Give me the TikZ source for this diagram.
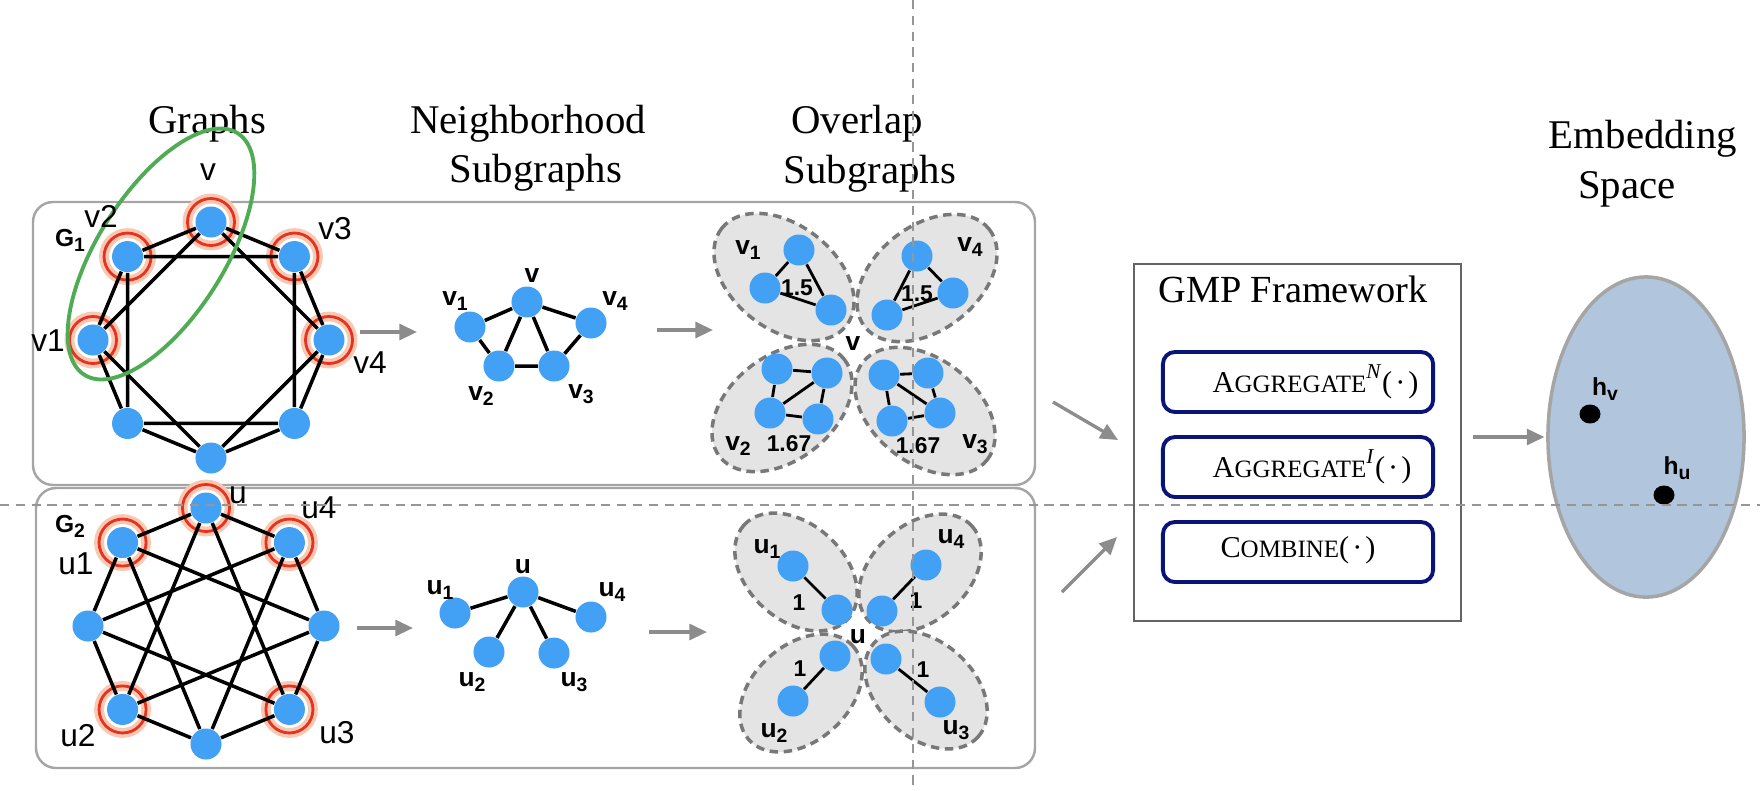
\documentclass[tikz,border=0pt]{standalone}
\usepackage{fontspec}
\setmainfont{Liberation Serif}
\newfontfamily\labfont{Liberation Sans}
\usetikzlibrary{arrows.meta,shapes.geometric}

\definecolor{nodeblue}{RGB}{66,160,245}
\definecolor{ringred}{RGB}{230,50,30}
\definecolor{ringglow}{RGB}{249,200,178}
\definecolor{hullgreen}{RGB}{80,172,84}
\definecolor{panelgray}{RGB}{165,165,165}
\definecolor{petalfill}{RGB}{228,228,228}
\definecolor{petaledge}{RGB}{120,120,120}
\definecolor{arrgray}{RGB}{140,140,140}
\definecolor{dashgray}{RGB}{150,150,150}
\definecolor{gmpgray}{RGB}{100,100,100}
\definecolor{navybox}{RGB}{10,20,120}
\definecolor{embfill}{RGB}{177,197,220}

% label with a small lowered index
\newcommand{\sv}[2]{#1\raisebox{-0.4ex}{\fontsize{5.5}{6}\selectfont#2}}
% small caps by hand
\newcommand{\fsc}[2]{#1{\fontsize{7.1}{8}\selectfont#2}}

\begin{document}
\begin{tikzpicture}[x=0.01cm,y=-0.01cm,
  vert/.style={circle,fill=nodeblue,inner sep=0pt,minimum size=0.31cm},
  edge/.style={line width=1pt},
  sedge/.style={line width=0.8pt},
  glow/.style={draw=ringglow,line width=2.8pt},
  ring/.style={draw=ringred,line width=0.8pt},
  panel/.style={draw=panelgray,line width=0.7pt,rounded corners=0.2cm},
  petal/.style={fill=petalfill,draw=petaledge,line width=1pt,dash pattern=on 2.4pt off 1.6pt},
  title/.style={font=\fontsize{11.6}{13}\selectfont,inner sep=0pt,anchor=base},
  lab/.style={font=\labfont\fontsize{9}{10}\selectfont,inner sep=0pt,anchor=base},
  blab/.style={font=\labfont\bfseries\fontsize{7.5}{9}\selectfont,inner sep=0pt,anchor=base},
  num/.style={font=\labfont\bfseries\fontsize{6.5}{8}\selectfont,inner sep=0pt,anchor=base},
  arr/.style={draw=arrgray,line width=0.95pt,-{Triangle[length=5pt,width=4.5pt]}},
  aggbox/.style={draw=navybox,line width=1.1pt,rounded corners=0.12cm,minimum width=2.7cm,minimum height=0.6cm,inner sep=0pt},
  aggtext/.style={font=\fontsize{8.6}{10}\selectfont,inner sep=0pt},
  guide/.style={draw=dashgray,line width=0.6pt,dash pattern=on 2.6pt off 1.9pt}]
\useasboundingbox (0,0) rectangle (1760,790);

% panels
\draw[panel] (33,202) rectangle (1035,485);
\draw[panel] (36,488) rectangle (1035,768);

% column titles
\node[title] (tgr) at (207,133) {Graphs};
\node[title] (tnb1) at (528,133) {Neighborhood};
\node[title] (tnb2) at (536,182) {Subgraphs};
\node[title] (tov1) at (857,133) {Overlap};
\node[title] (tov2) at (870,183) {Subgraphs};
\node[title] (tem1) at (1643,148) {Embedding};
\node[title] (tem2) at (1627,198) {Space};

% graph G1
\foreach \k in {0,...,7}
\coordinate (c1-\k) at ({211+118*cos(\k*45)},{340+118*sin(\k*45)});
\foreach \k in {0,4,5,6,7} {
\draw[glow] (c1-\k) circle[radius=0.235cm];
\draw[ring] (c1-\k) circle[radius=0.235cm];
}
\foreach \k in {0,...,7}
\node[vert] (g1-\k) at (c1-\k) {};
\foreach \k in {0,...,7} {
\pgfmathtruncatemacro{\na}{mod(\k+1,8)}
\pgfmathtruncatemacro{\nb}{mod(\k+2,8)}
\draw[edge] (g1-\k) -- (g1-\na) (g1-\k) -- (g1-\nb);
}
\draw[hullgreen,line width=1.1pt,rotate around={57.6:(161,254)}] (161,254) ellipse[x radius=1.43cm,y radius=0.63cm];

\foreach \n/\x/\y/\t in {lv/208/180/v, lv2/101/227/v2, lv3/335/239/v3, lv1/48/351/v1, lv4/370/373/v4}
\node[lab] (\n) at (\x,\y) {\t};
\node[blab,font=\labfont\bfseries\fontsize{7}{8}\selectfont] (lg1) at (70,246) {\sv{G}{1}};

% graph G2
\foreach \k in {0,...,7}
\coordinate (c2-\k) at ({206+118*cos(\k*45)},{626+118*sin(\k*45)});
\foreach \k in {1,3,5,6,7} {
\draw[glow] (c2-\k) circle[radius=0.235cm];
\draw[ring] (c2-\k) circle[radius=0.235cm];
}
\foreach \k in {0,...,7}
\node[vert] (g2-\k) at (c2-\k) {};
\foreach \k in {0,...,7} {
\pgfmathtruncatemacro{\na}{mod(\k+1,8)}
\pgfmathtruncatemacro{\nb}{mod(\k+3,8)}
\draw[edge] (g2-\k) -- (g2-\na) (g2-\k) -- (g2-\nb);
}

\foreach \n/\x/\y/\t in {lu/238/503/u, lu4/319/518/u4, lu1/76/574/u1, lu2/78/746/u2, lu3/337/743/u3}
\node[lab] (\n) at (\x,\y) {\t};
\node[blab,font=\labfont\bfseries\fontsize{7}{8}\selectfont] (lg2) at (70,532) {\sv{G}{2}};

% neighborhood subgraphs
\foreach \n/\x/\y in {v/527/302, v1/470/327, v4/591/323, v2/499/366, v3/554/366}
\node[vert] (n1-\n) at (\x,\y) {};
\draw[edge] (n1-v) -- (n1-v1) (n1-v) -- (n1-v4) (n1-v) -- (n1-v2) (n1-v) -- (n1-v3)
(n1-v1) -- (n1-v2) (n1-v2) -- (n1-v3) (n1-v3) -- (n1-v4);
\node[blab] (nl-v) at (532,282) {v};
\foreach \n/\x/\y/\i in {v1/455/305/1, v4/615/305/4, v2/481/400/2, v3/581/398/3}
\node[blab] (nl-\n) at (\x,\y) {\sv{v}{\i}};

\foreach \n/\x/\y in {u/523/592, u1/455/613, u4/591/617, u2/489/652, u3/554/653}
\node[vert] (n2-\n) at (\x,\y) {};
\draw[edge] (n2-u) -- (n2-u1) (n2-u) -- (n2-u2) (n2-u) -- (n2-u3) (n2-u) -- (n2-u4);
\node[blab] (nl-u) at (523,573) {u};
\foreach \n/\x/\y/\i in {u1/440/594/1, u4/612/596/4, u2/472/686/2, u3/574/686/3}
\node[blab] (nl-\n) at (\x,\y) {\sv{u}{\i}};

% overlap subgraphs of v
\foreach \x/\y/\r in {784/277/142, 927/278/38, 782/408/38, 925/411/-38}
\draw[petal,rotate around={\r:(\x,\y)}] (\x,\y) ellipse[x radius=0.79cm,y radius=0.52cm];
\foreach \n/\x/\y in {a1/799/250, a2/765/288, a3/831/310, b1/917/256, b2/953/293, b3/887/315,
c1/777/369, c2/827/373, c3/770/413, c4/818/419, d1/884/375, d2/928/373, d3/892/421, d4/940/413}
\node[vert] (p\n) at (\x,\y) {};
\draw[sedge] (pa1) -- (pa2) -- (pa3) -- (pa1) (pb1) -- (pb2) -- (pb3) -- (pb1)
(pc1) -- (pc2) -- (pc4) -- (pc3) -- (pc1) (pc2) -- (pc3)
(pd1) -- (pd2) -- (pd4) -- (pd3) -- (pd1) (pd1) -- (pd4);
\foreach \n/\x/\y/\i in {pv1/748/254/1, pv4/970/251/4, pv2/738/450/2, pv3/975/448/3}
\node[blab] (\n) at (\x,\y) {\sv{v}{\i}};
\node[blab] (pv) at (853,350) {v};
\foreach \n/\x/\y/\t in {w1/797/295/1.5, w4/917/301/1.5, w2/789/451/1.67, w3/918/453/1.67}
\node[num] (\n) at (\x,\y) {\t};

% overlap subgraphs of u
\foreach \x/\y/\r in {796/572/138, 920/573/42, 801/693/42, 926/690/-42}
\draw[petal,rotate around={\r:(\x,\y)}] (\x,\y) ellipse[x radius=0.70cm,y radius=0.48cm];
\foreach \n/\x/\y in {a1/793/566, a2/837/610, b1/926/565, b2/882/611,
c1/835/656, c2/793/701, d1/886/659, d2/940/702}
\node[vert] (q\n) at (\x,\y) {};
\draw[sedge] (qa1) -- (qa2) (qb1) -- (qb2) (qc1) -- (qc2) (qd1) -- (qd2);
\foreach \n/\x/\y/\i in {qu1/767/553/1, qu4/951/543/4, qu2/774/737/2, qu3/956/734/3}
\node[blab] (\n) at (\x,\y) {\sv{u}{\i}};
\node[blab] (qu) at (858,643) {u};
\foreach \n/\x/\y in {x1/799/610, x4/916/608, x2/800/676, x3/923/677}
\node[num] (\n) at (\x,\y) {1};

% GMP framework
\node[draw=gmpgray,line width=0.6pt,minimum width=3.27cm,minimum height=3.57cm,inner sep=0pt] (gmp) at (1297.5,442.5) {};
\node[title,font=\fontsize{10.9}{12}\selectfont] (tgmp) at (1293,302) {GMP Framework};
\node[aggbox] (agn) at (1298,382) {};
\node[aggbox] (agi) at (1298,467) {};
\node[aggbox] (cmb) at (1298,552) {};
\node[aggtext,anchor=base west] (agnt) at (1212,392) {\fsc{A}{GGREGATE}\textsuperscript{\itshape N}(\kern.1em·\kern.1em)};
\node[aggtext,anchor=base west] (agit) at (1212,477) {\fsc{A}{GGREGATE}\textsuperscript{\itshape I}(\kern.1em·\kern.1em)};
\node[aggtext,anchor=base] (cmbt) at (1298,557) {\fsc{C}{OMBINE}(\kern.1em·\kern.1em)};

% embedding space
\node[ellipse,fill=embfill,draw=panelgray,line width=1pt,minimum width=1.96cm,minimum height=3.2cm,inner sep=0pt] (emb) at (1646,437) {};
\node[ellipse,fill=black,minimum width=0.21cm,minimum height=0.19cm,inner sep=0pt] (hv) at (1590,414) {};
\node[ellipse,fill=black,minimum width=0.21cm,minimum height=0.19cm,inner sep=0pt] (hu) at (1664,495) {};
\node[blab,font=\labfont\bfseries\fontsize{7}{8}\selectfont] (hvl) at (1605,395) {\sv{h}{v}};
\node[blab,font=\labfont\bfseries\fontsize{7}{8}\selectfont] (hul) at (1677,474) {\sv{h}{u}};

% arrows
\coordinate (a1s) at (360,332); \coordinate (a1e) at (417,332);
\coordinate (a2s) at (657,330); \coordinate (a2e) at (713,330);
\coordinate (a3s) at (357,628); \coordinate (a3e) at (413,628);
\coordinate (a4s) at (649,632); \coordinate (a4e) at (707,632);
\coordinate (a5s) at (1053,402); \coordinate (a5e) at (1118,440);
\coordinate (a6s) at (1062,592); \coordinate (a6e) at (1117,537);
\coordinate (a7s) at (1473,437);
\foreach \i in {1,...,6}
\draw[arr] (a\i s) -- (a\i e);
\draw[arr,shorten >=0.5pt] (a7s) -- (emb.west);

% guide lines
\draw[guide] (0,505) -- (1760,505);
\draw[guide] (913,0) -- (913,790);
\end{tikzpicture}
\end{document}
